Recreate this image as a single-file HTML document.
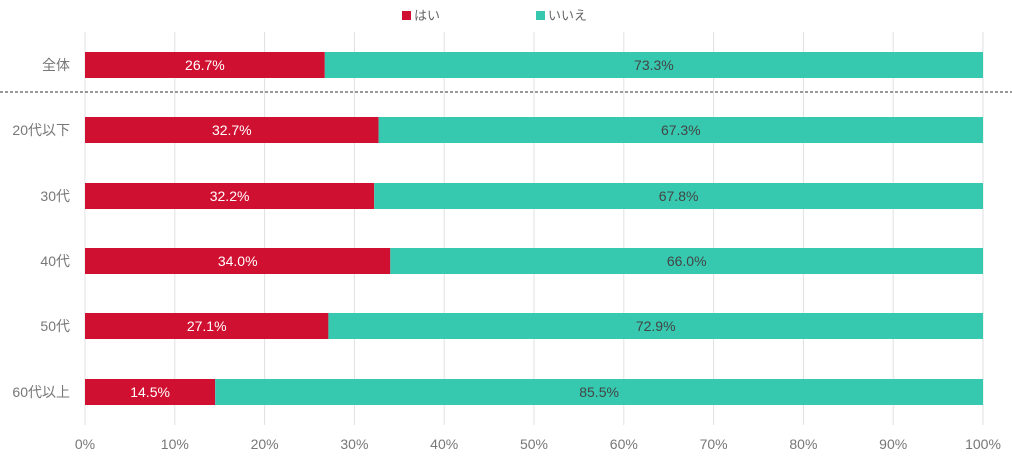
<!DOCTYPE html>
<html><head><meta charset="utf-8"><style>
body{margin:0;background:#fff;}
text{font-family:"Liberation Sans","Noto Sans CJK JP",sans-serif;}
</style></head><body>
<svg width="1012" height="457" xmlns="http://www.w3.org/2000/svg">
<g stroke="#e0e0e0" stroke-width="1">
<line x1="85" y1="32" x2="85" y2="425"/><line x1="174.8" y1="32" x2="174.8" y2="425"/><line x1="264.6" y1="32" x2="264.6" y2="425"/><line x1="354.4" y1="32" x2="354.4" y2="425"/><line x1="444.2" y1="32" x2="444.2" y2="425"/><line x1="534" y1="32" x2="534" y2="425"/><line x1="623.8" y1="32" x2="623.8" y2="425"/><line x1="713.6" y1="32" x2="713.6" y2="425"/><line x1="803.4" y1="32" x2="803.4" y2="425"/><line x1="893.2" y1="32" x2="893.2" y2="425"/><line x1="983" y1="32" x2="983" y2="425"/>
</g>
<line x1="0" y1="92" x2="1012" y2="92" stroke="#333" stroke-dasharray="3,2"/>
<rect x="402" y="11" width="9" height="9" fill="#d01030"/>
<text x="414" y="20" font-size="13" fill="#666">はい</text>
<rect x="536" y="11" width="9" height="9" fill="#36c9b0"/>
<text x="548" y="20" font-size="13" fill="#666">いいえ</text>
<g font-size="14" text-anchor="middle">
<rect x="85" y="52" width="239.8" height="26" fill="#d01030"/><rect x="324.8" y="52" width="658.2" height="26" fill="#36c9b0"/>
<text x="204.9" y="70" fill="#fff">26.7%</text><text x="653.9" y="70" fill="#444">73.3%</text>
<rect x="85" y="117" width="293.6" height="26" fill="#d01030"/><rect x="378.6" y="117" width="604.4" height="26" fill="#36c9b0"/>
<text x="231.8" y="135" fill="#fff">32.7%</text><text x="680.8" y="135" fill="#444">67.3%</text>
<rect x="85" y="183" width="289.2" height="26" fill="#d01030"/><rect x="374.2" y="183" width="608.8" height="26" fill="#36c9b0"/>
<text x="229.6" y="201" fill="#fff">32.2%</text><text x="678.6" y="201" fill="#444">67.8%</text>
<rect x="85" y="248" width="305.3" height="26" fill="#d01030"/><rect x="390.3" y="248" width="592.7" height="26" fill="#36c9b0"/>
<text x="237.7" y="266" fill="#fff">34.0%</text><text x="686.7" y="266" fill="#444">66.0%</text>
<rect x="85" y="313" width="243.4" height="26" fill="#d01030"/><rect x="328.4" y="313" width="654.6" height="26" fill="#36c9b0"/>
<text x="206.7" y="331" fill="#fff">27.1%</text><text x="655.7" y="331" fill="#444">72.9%</text>
<rect x="85" y="379" width="130.2" height="26" fill="#d01030"/><rect x="215.2" y="379" width="767.8" height="26" fill="#36c9b0"/>
<text x="150.1" y="397" fill="#fff">14.5%</text><text x="599.1" y="397" fill="#444">85.5%</text>
</g>
<g font-size="14" fill="#777" text-anchor="end">
<text x="70" y="70">全体</text><text x="70" y="135">20代以下</text><text x="70" y="201">30代</text><text x="70" y="266">40代</text><text x="70" y="331">50代</text><text x="70" y="397">60代以上</text>
</g>
<g font-size="14" fill="#777" text-anchor="middle">
<text x="85" y="449">0%</text><text x="174.8" y="449">10%</text><text x="264.6" y="449">20%</text><text x="354.4" y="449">30%</text><text x="444.2" y="449">40%</text><text x="534" y="449">50%</text><text x="623.8" y="449">60%</text><text x="713.6" y="449">70%</text><text x="803.4" y="449">80%</text><text x="893.2" y="449">90%</text><text x="983" y="449">100%</text>
</g>
</svg>
</body></html>
